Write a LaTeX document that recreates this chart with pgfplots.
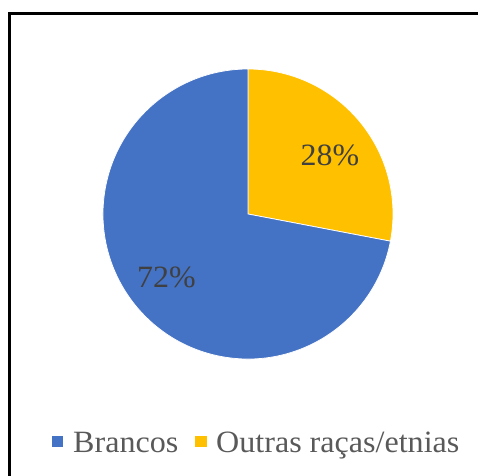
\documentclass[border=0pt]{standalone}
\usepackage{pgfplots}
\pgfplotsset{compat=1.18}
\usepackage{pgfplotstable}
\usepackage{fontspec}
\setmainfont{Liberation Serif}
\definecolor{cBlue}{HTML}{4472C4}
\definecolor{cGold}{HTML}{FFC000}
\definecolor{cText}{HTML}{595959}
\definecolor{cLab}{HTML}{404040}
\pgfplotstableread{
label value
Brancos 72
Outras 28
}\pietable
\begin{document}
\begin{tikzpicture}
\useasboundingbox (0,0) rectangle (478pt,475pt);
\pgfplotstablegetelem{0}{value}\of\pietable \edef\vA{\pgfplotsretval}
\pgfplotstablegetelem{1}{value}\of\pietable \edef\vB{\pgfplotsretval}
\pgfmathsetmacro\aB{90-\vB*3.6}
\pgfmathsetmacro\aA{\aB-\vA*3.6}
\begin{axis}[at={(0,0)}, anchor=south west, width=478pt, height=475pt,
  scale only axis, xmin=0, xmax=478, ymin=0, ymax=475, hide axis, clip=false]
\addplot[draw=none] coordinates {(248,261)};
\fill[cGold, draw=white, line width=0.75pt] (axis cs:248,261) -- ++(90:145pt)
  arc[start angle=90, end angle=\aB, radius=145pt] -- cycle;
\fill[cBlue, draw=white, line width=0.75pt] (axis cs:248,261) -- ++(\aB:145pt)
  arc[start angle=\aB, end angle=\aA, radius=145pt] -- cycle;
\node[anchor=base, inner sep=0pt, xscale=1.03, text=cLab, font=\fontsize{31}{36}\selectfont] at (axis cs:330,310) {\vB\%};
\node[anchor=base, inner sep=0pt, xscale=1.03, text=cLab, font=\fontsize{31}{36}\selectfont] at (axis cs:166.5,188) {\vA\%};
% legend
\fill[cBlue] (axis cs:52,28) rectangle (axis cs:63,39);
\node[anchor=base west, inner sep=0pt, xscale=1.035, text=cText, font=\fontsize{31}{36}\selectfont] at (axis cs:73,23) {Brancos};
\fill[cGold] (axis cs:195,28) rectangle (axis cs:207,39);
\node[anchor=base west, inner sep=0pt, xscale=1.035, text=cText, font=\fontsize{31}{36}\selectfont] at (axis cs:216,23) {Outras raças/etnias};
% frame
\draw[black, line width=3pt] (axis cs:9.5,-20) -- (axis cs:9.5,461.7) -- (axis cs:500,461.7);
\end{axis}
\end{tikzpicture}
\end{document}
